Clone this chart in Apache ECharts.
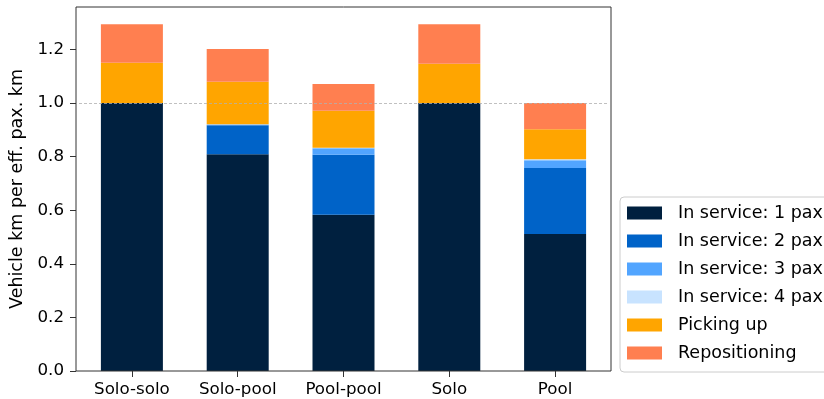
<!DOCTYPE html>
<html>
<head>
<meta charset="utf-8">
<script src="https://cdn.jsdelivr.net/npm/echarts@6/dist/echarts.min.js"></script>
<style>
  html, body { margin: 0; padding: 0; background: #fff; }
  #chart { width: 824px; height: 399px; }
</style>
</head>
<body>
<div id="chart"></div>
<script>
var categories = ['Solo-solo', 'Solo-pool', 'Pool-pool', 'Solo', 'Pool'];
var pax1 = [1.000, 0.809, 0.583, 1.000, 0.511];
var pax2 = [0, 0.108, 0.224, 0, 0.247];
var pax3 = [0, 0.003, 0.024, 0, 0.029];
var pax4 = [0, 0.001, 0.002, 0, 0.003];
var pickingUp = [0.151, 0.159, 0.138, 0.147, 0.112];
var repositioning = [0.143, 0.122, 0.100, 0.147, 0.098];
var yTicks = [0, 0.2, 0.4, 0.6, 0.8, 1.0, 1.2];

var myChart = echarts.init(document.getElementById('chart'));

var font = 'DejaVu Sans';
var names = ['In service: 1 pax', 'In service: 2 pax', 'In service: 3 pax',
             'In service: 4 pax', 'Picking up', 'Repositioning'];
var colors = ['#00203f', '#0063c8', '#52a5ff', '#c8e3ff', '#ffa500', '#ff7f50'];
var values = [pax1, pax2, pax3, pax4, pickingUp, repositioning];

var series = names.map(function (n, i) {
    var s = {
        name: n,
        type: 'bar',
        stack: 'total',
        barWidth: 62,
        data: values[i],
        itemStyle: { color: colors[i] }
    };
    if (i === 0) {
        // dashed reference line at 1.0
        s.markLine = {
            silent: true,
            symbol: 'none',
            label: { show: false },
            lineStyle: { color: '#b0b0b0', type: [3, 2], width: 0.8 },
            data: [{ yAxis: 1.0 }]
        };
    }
    return s;
});

var option = {
    animation: false,
    textStyle: { fontFamily: font },
    grid: { left: 79, right: 216, top: 7, bottom: 28 },
    legend: {
        orient: 'vertical',
        left: 620,
        top: 197,
        data: names,
        icon: 'rect',
        itemWidth: 35,
        itemHeight: 13,
        itemGap: 10,
        padding: [7, 10, 10, 7],
        borderColor: '#cccccc',
        borderWidth: 1,
        borderRadius: 4,
        backgroundColor: '#fff',
        textStyle: { fontFamily: font, fontSize: 17.5, color: '#000', padding: [0, 0, 0, 11] }
    },
    xAxis: {
        type: 'category',
        data: categories,
        axisLine: { show: false },
        axisTick: { show: true, alignWithLabel: true, length: 6, lineStyle: { color: '#333' } },
        axisLabel: { fontFamily: font, fontSize: 16.7, color: '#000', margin: 10 }
    },
    yAxis: {
        type: 'value',
        min: 0,
        max: 1.3587,
        interval: 0.2,
        offset: 3,
        name: 'Vehicle km per eff. pax. km',
        nameLocation: 'middle',
        nameGap: 47,
        nameTextStyle: { fontFamily: font, fontSize: 17.5, color: '#000' },
        splitLine: { show: false },
        axisLine: { show: false },
        axisTick: { show: true, length: 6, lineStyle: { color: '#333' } },
        axisLabel: {
            fontFamily: font, fontSize: 16.7, color: '#000', margin: 12,
            showMaxLabel: false,
            formatter: function (v) {
                return yTicks.some(function (t) { return Math.abs(t - v) < 1e-6; }) ? v.toFixed(1) : '';
            }
        }
    },
    graphic: [{
        type: 'rect',
        shape: { x: 76, y: 7, width: 535, height: 364 },
        style: { fill: null, stroke: '#333', lineWidth: 1 },
        z: 100,
        silent: true
    }],
    series: series
};

myChart.setOption(option);
</script>
</body>
</html>
